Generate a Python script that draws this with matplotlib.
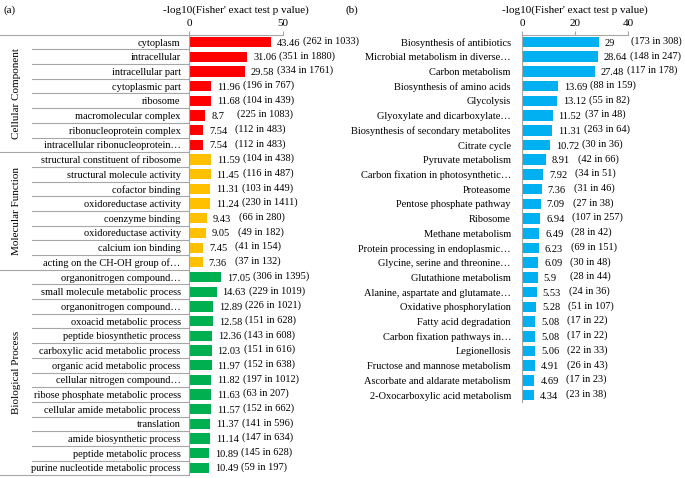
import numpy as np
import matplotlib
matplotlib.use("Agg")
import matplotlib.pyplot as plt
from matplotlib.transforms import blended_transform_factory

plt.rcParams['font.family'] = ['Liberation Serif', 'DejaVu Serif']
plt.rcParams['font.size'] = 7.5

# panel (a) - GO terms
go_groups = ["Cellular Component", "Molecular Function", "Biological Process"]
go_terms = [
    ["cytoplasm", "intracellular", "intracellular part", "cytoplasmic part",
     "ribosome", "macromolecular complex", "ribonucleoprotein complex",
     "intracellular ribonucleoprotein\u2026"],
    ["structural constituent of ribosome", "structural molecule activity",
     "cofactor binding", "oxidoreductase activity", "coenzyme binding",
     "oxidoreductase activity", "calcium ion binding",
     "acting on the CH-OH group of\u2026"],
    ["organonitrogen compound\u2026", "small molecule metabolic process",
     "organonitrogen compound\u2026", "oxoacid metabolic process",
     "peptide biosynthetic process", "carboxylic acid metabolic process",
     "organic acid metabolic process", "cellular nitrogen compound\u2026",
     "ribose phosphate metabolic process", "cellular amide metabolic process",
     "translation", "amide biosynthetic process", "peptide metabolic process",
     "purine nucleotide metabolic process"],
]
go_values = [
    [43.46, 31.06, 29.58, 11.96, 11.68, 8.7, 7.54, 7.54],
    [11.59, 11.45, 11.31, 11.24, 9.43, 9.05, 7.45, 7.36],
    [17.05, 14.63, 12.89, 12.58, 12.36, 12.03, 11.97, 11.82, 11.63, 11.57,
     11.37, 11.14, 10.89, 10.49],
]
go_hits = [
    [262, 351, 334, 196, 104, 225, 112, 112],
    [104, 116, 103, 230, 66, 49, 41, 37],
    [306, 229, 226, 151, 143, 151, 152, 197, 63, 152, 141, 147, 145, 59],
]
go_totals = [
    [1033, 1880, 1761, 767, 439, 1083, 483, 483],
    [438, 487, 449, 1411, 280, 182, 154, 132],
    [1395, 1019, 1021, 628, 608, 616, 638, 1012, 207, 662, 596, 634, 628, 197],
]
go_colors = ["#FF0000", "#FFC000", "#00B050"]

# panel (b) - KEGG pathways
kegg_terms = [
    "Biosynthesis of antibiotics", "Microbial metabolism in diverse\u2026",
    "Carbon metabolism", "Biosynthesis of amino acids", "Glycolysis",
    "Glyoxylate and dicarboxylate\u2026", "Biosynthesis of secondary metabolites",
    "Citrate cycle", "Pyruvate metabolism", "Carbon fixation in photosynthetic\u2026",
    "Proteasome", "Pentose phosphate pathway", "Ribosome", "Methane metabolism",
    "Protein processing in endoplasmic\u2026", "Glycine, serine and threonine\u2026",
    "Glutathione metabolism", "Alanine, aspartate and glutamate\u2026",
    "Oxidative phosphorylation", "Fatty acid degradation",
    "Carbon fixation pathways in\u2026", "Legionellosis",
    "Fructose and mannose metabolism", "Ascorbate and aldarate metabolism",
    "2-Oxocarboxylic acid metabolism",
]
kegg_values = [29, 28.64, 27.48, 13.69, 13.12, 11.52, 11.31, 10.72, 8.91, 7.92,
               7.36, 7.09, 6.94, 6.49, 6.23, 6.09, 5.9, 5.53, 5.28, 5.08, 5.08,
               5.06, 4.91, 4.69, 4.34]
kegg_hits = [173, 148, 117, 88, 55, 37, 263, 30, 42, 34, 31, 27, 107, 28, 69,
             30, 28, 24, 51, 17, 17, 22, 26, 17, 23]
kegg_totals = [308, 247, 178, 159, 82, 48, 64, 36, 66, 51, 46, 38, 257, 42, 151,
               48, 44, 36, 107, 22, 22, 33, 43, 23, 38]
kegg_color = "#00B0F0"

xlabel = "-log10(Fisher' exact test p value)"
line_col = "#A6A6A6"

fig = plt.figure(figsize=(6.85, 4.78), dpi=100)
axa = fig.add_axes([189 / 685, 0.0056, 94 / 685, 0.9218])
axb = fig.add_axes([522 / 685, 0.158, 106 / 685, 0.7694])


def style_axis(ax, xmax, ticks, n):
    ax.set_xlim(0, xmax)
    ax.set_ylim(n - 0.5, -0.5)
    ax.xaxis.tick_top()
    ax.xaxis.set_label_position("top")
    ax.set_xticks(ticks)
    ax.tick_params(axis="x", length=3, color=line_col, pad=2, labelsize=8)
    ax.tick_params(axis="y", length=0)
    for s in ["right", "bottom"]:
        ax.spines[s].set_visible(False)
    for s in ["top", "left"]:
        ax.spines[s].set_color(line_col)
        ax.spines[s].set_linewidth(0.8)
    ax.set_xlabel(xlabel, fontsize=8, labelpad=4)


def label_bars(ax, ys, vals, hits, totals):
    for y, v, h, t in zip(ys, vals, hits, totals):
        ax.annotate(f"{v:g}", (v, y), xytext=(6, -1), textcoords="offset pixels",
                    va="center", ha="left")
        ax.annotate(f"({h} in {t})", (v, y), xytext=(32, 1), textcoords="offset pixels",
                    va="center", ha="left")


# ---- panel a
vals_a = [v for g in go_values for v in g]
terms_a = [t for g in go_terms for t in g]
cols_a = [go_colors[i] for i, g in enumerate(go_values) for _ in g]
hits_a = [h for g in go_hits for h in g]
tot_a = [t for g in go_totals for t in g]
ya = np.arange(len(vals_a))
axa.barh(ya, vals_a, height=0.7, color=cols_a)
style_axis(axa, 50, [0, 50], len(vals_a))
axa.set_yticks(ya)
axa.set_yticklabels(terms_a)
axa.tick_params(axis="y", pad=6)
label_bars(axa, ya, vals_a, hits_a, tot_a)

trans = blended_transform_factory(axa.transAxes, axa.transData)
x_full = -189 / 94
x_item = -157 / 94
start = 0
for gi, g in enumerate(go_values):
    end = start + len(g)
    for k in range(start + 1, end):
        axa.plot([x_item, 0], [k - 0.5, k - 0.5], color=line_col, lw=0.8,
                 transform=trans, clip_on=False)
    axa.plot([x_full, 0], [end - 0.5, end - 0.5], color=line_col, lw=0.8,
             transform=trans, clip_on=False)
    axa.text(-172 / 94, (start + end - 1) / 2, go_groups[gi], rotation=90,
             ha="center", va="center", transform=trans, fontsize=8)
    start = end
axa.plot([x_full, 0], [-0.5, -0.5], color=line_col, lw=0.8,
         transform=trans, clip_on=False)

# ---- panel b
yb = np.arange(len(kegg_values))
axb.barh(yb, kegg_values, height=0.72, color=kegg_color)
style_axis(axb, 40, [0, 20, 40], len(kegg_values))
axb.set_yticks(yb)
axb.set_yticklabels(kegg_terms)
axb.tick_params(axis="y", pad=8)
label_bars(axb, yb, kegg_values, kegg_hits, kegg_totals)

fig.text(3 / 685, 1 - 10 / 478, "(a)", fontsize=8, va="center")
fig.text(345 / 685, 1 - 10 / 478, "(b)", fontsize=8, va="center")

fig.savefig("out.png", dpi=100)
